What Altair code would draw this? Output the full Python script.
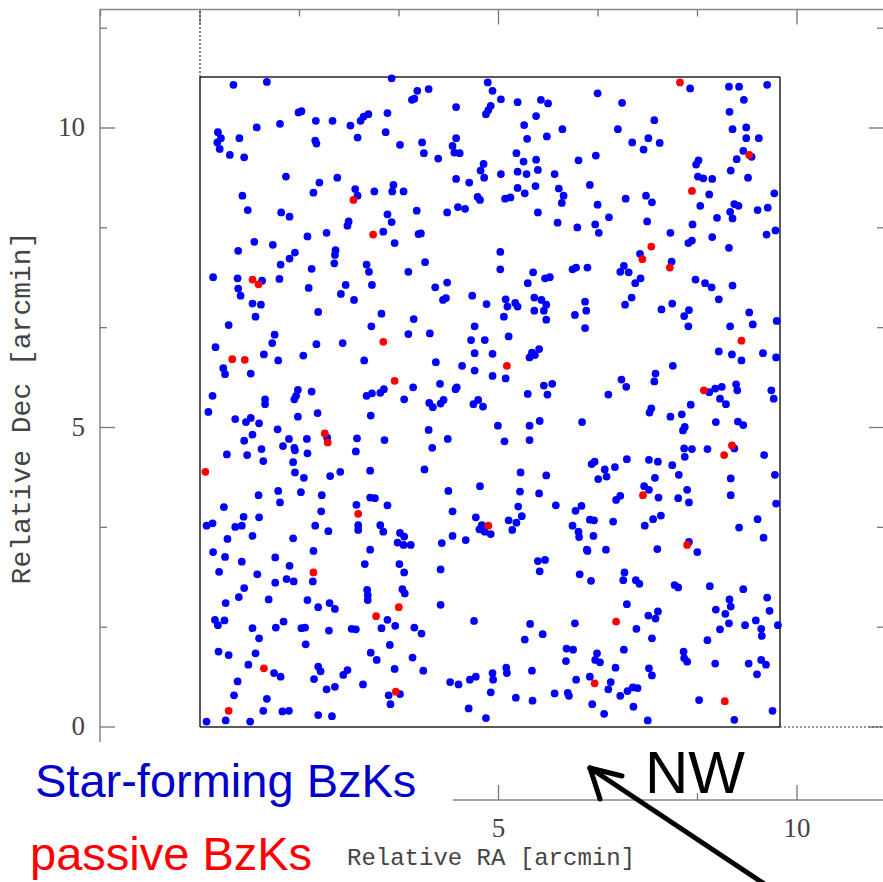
import altair as alt
import pandas as pd

# ---------------- data (Relative RA / Dec in arcmin) ----------------
blue_ra = [
0.56,1.12,3.21,1.65,1.70,1.34,1.94,2.22,2.52,2.69,2.74,2.82,3.14,3.11,2.64,0.30,0.35,0.29,0.33,0.66,0.95,1.93,1.95,0.50,0.74,1.44,2.00,2.30,1.90,2.60,2.64,2.92,0.71,0.80,1.36,1.50,2.49,2.47,2.12,1.80,3.14,3.21,3.07,0.91,0.64,1.22,1.59,1.50,2.27,2.26,2.25,1.35,1.87,2.79,2.83,0.22,0.63,1.04,1.33,0.64,1.82,2.44,2.88,
3.64,3.83,3.55,3.59,4.29,4.82,4.90,5.04,5.32,5.71,5.83,4.87,4.83,4.79,5.63,5.43,6.07,5.81,5.48,3.35,3.72,3.75,4.29,4.23,4.26,4.35,3.99,5.30,5.42,5.63,6.34,4.75,4.70,4.76,4.29,4.51,5.04,5.32,5.47,5.66,5.94,5.62,5.32,5.44,6.01,6.09,6.06,3.24,3.22,3.41,4.65,4.69,5.11,5.20,3.63,4.14,4.32,4.44,5.66,5.99,6.32,3.66,3.70,3.26,5.03,3.77,3.49,5.03,5.58,5.78,5.86,6.24,6.30,5.49,3.94,4.14,
6.66,7.07,8.21,8.86,9.03,9.50,9.11,8.87,7.61,7.00,7.51,7.24,7.70,7.43,8.92,9.15,9.15,9.36,9.10,8.99,9.24,8.89,9.18,6.63,8.35,8.31,8.34,8.43,8.58,6.53,8.53,9.62,7.13,7.47,7.57,6.66,6.85,8.38,8.95,9.02,8.88,8.92,9.34,9.51,8.66,6.62,6.68,7.49,8.25,7.88,8.18,8.24,8.58,8.86,9.49,9.64,7.37,7.90,6.49,7.04,7.10,7.18,7.29,7.38,8.30,8.46,8.57,8.92,
0.68,2.36,2.58,0.88,1.02,0.93,1.98,3.04,0.48,2.87,1.25,1.21,0.26,1.95,2.39,1.07,1.31,1.73,2.75,0.39,0.42,0.85,0.21,1.64,1.61,1.58,1.87,1.09,1.09,2.79,2.88,3.02,3.08,0.14,0.59,0.77,0.85,0.99,1.64,1.97,2.86,1.30,0.88,0.74,1.49,1.79,2.13,2.63,3.09,0.45,0.79,1.03,1.06,1.39,1.58,1.59,1.80,1.56,1.59,1.74,2.18,2.35,2.61,2.85,0.98,1.31,1.69,1.34,2.04,0.40,2.62,2.85,2.93,3.14,2.03,
4.07,4.12,4.56,4.80,5.12,5.15,5.28,5.32,5.60,5.72,5.80,5.60,5.76,5.80,6.45,6.47,6.28,6.45,3.58,5.09,3.49,3.85,4.60,4.54,4.77,5.17,4.60,4.90,5.52,5.56,5.61,5.68,3.95,4.39,4.60,4.90,5.12,5.76,5.90,5.82,5.49,3.57,4.02,4.30,4.28,3.42,3.84,3.90,4.03,4.08,4.58,4.66,4.74,3.83,4.15,3.89,4.99,5.10,5.52,5.69,5.52,6.40,3.76,5.37,5.80,4.16,4.69,5.36,5.68,5.33,5.96,6.29,6.39,4.23,
8.69,7.12,7.23,7.73,7.91,8.11,8.19,8.18,8.88,9.20,9.26,9.66,8.69,8.91,9.07,9.43,9.65,7.92,7.63,7.61,7.06,7.14,6.84,8.63,8.74,8.53,8.98,9.00,8.71,8.81,9.57,9.61,8.22,7.56,7.53,7.88,8.07,8.12,8.09,8.64,9.01,9.10,8.11,8.24,8.12,8.50,8.95,9.45,6.56,6.61,6.78,6.67,6.81,6.95,7.15,7.52,7.67,7.91,8.02,7.62,7.44,7.52,7.68,8.16,8.01,8.19,8.89,8.89,9.63,9.65,6.97,7.04,
0.73,0.99,0.11,0.21,0.59,0.70,0.46,0.88,1.56,1.93,2.15,2.65,2.65,3.02,3.07,0.22,0.42,0.70,1.26,1.50,0.32,0.96,1.26,1.45,1.57,1.90,1.89,2.85,2.76,2.80,2.81,2.81,0.74,0.65,0.43,1.15,1.80,1.98,2.17,2.26,0.25,0.41,0.30,0.88,1.27,1.40,1.70,1.76,2.16,2.54,2.61,3.04,3.14,0.99,1.77,0.31,0.48,0.93,0.81,1.24,1.35,3.18,2.86,2.96,0.63,0.57,1.12,1.06,1.38,1.49,1.98,2.02,1.91,2.40,2.47,2.12,2.26,2.73,3.16,3.19,0.11,0.43,0.84,1.98,2.21,
4.62,4.72,4.68,4.77,4.87,5.17,5.30,5.39,5.23,3.35,3.42,3.31,3.41,3.53,4.05,4.23,4.45,3.34,3.42,4.03,3.39,3.43,4.03,4.59,3.27,3.59,3.71,3.56,3.26,3.74,4.19,4.33,4.52,4.62,4.90,4.91,5.13,5.14,4.87,4.50,4.79,5.29,5.57,5.56,5.44,5.53,5.74,5.66,5.78,5.69,6.24,6.34,6.35,6.48,6.36,6.28,6.14,6.25,6.13,6.30,5.94,6.16,6.18,3.35,
6.53,6.60,6.92,7.45,7.59,7.72,6.59,6.49,6.80,7.66,8.19,8.33,9.03,9.34,9.44,6.55,7.11,7.09,7.30,7.36,7.95,8.01,8.54,9.10,7.15,7.51,7.67,7.63,7.31,7.57,8.50,8.64,8.80,8.87,8.89,8.86,8.71,9.13,9.31,9.40,9.41,9.50,9.54,9.68,6.65,6.62,6.70,7.10,6.96,6.53,6.88,6.84,7.04,7.16,7.25,7.33,7.52,7.57,8.10,8.11,8.16,8.63,9.19,9.40,9.48,9.33,6.57,6.77,7.26,7.50,8.36,8.95,9.59,
]
blue_dec = [
10.72,10.77,10.83,10.26,10.28,10.07,10.12,10.12,10.04,10.12,10.19,10.23,10.25,9.93,9.84,9.93,9.83,9.76,9.65,9.83,10.01,9.79,9.74,9.55,9.51,9.19,9.09,9.17,8.92,8.98,8.87,8.94,8.87,8.63,8.59,8.52,8.44,8.37,8.25,8.19,8.56,8.43,8.27,8.10,7.95,8.05,7.92,7.82,7.96,7.88,7.74,7.72,7.65,7.72,7.60,7.51,7.49,7.45,7.48,7.32,7.33,7.38,7.38,
10.62,10.65,10.47,10.49,10.35,10.76,10.62,10.48,10.43,10.47,10.41,10.37,10.30,10.23,10.20,10.05,9.98,9.86,9.82,9.72,9.76,9.58,9.83,9.70,9.59,9.58,9.49,9.58,9.44,9.47,9.46,9.40,9.29,9.17,9.15,9.09,9.23,9.27,9.23,9.30,9.23,9.03,9.00,8.91,8.99,8.87,8.75,9.05,8.94,8.94,8.85,8.80,8.82,8.84,8.62,8.59,8.68,8.65,8.59,8.42,8.34,8.23,8.24,8.08,7.93,7.76,7.60,7.64,7.59,7.49,7.51,7.64,7.67,7.41,7.34,7.42,
10.58,10.42,10.66,10.69,10.69,10.72,10.47,10.27,10.13,9.98,9.83,9.76,9.75,9.64,9.98,10.01,9.83,9.83,9.62,9.48,9.52,9.29,9.17,9.54,9.46,9.39,9.19,9.16,9.15,9.05,8.89,8.91,8.82,8.87,8.76,8.72,8.51,8.70,8.73,8.70,8.60,8.49,8.63,8.67,8.50,8.39,8.25,8.44,8.39,8.25,8.08,8.12,8.18,8.00,8.22,8.29,7.90,7.77,7.67,7.60,7.70,7.59,7.41,7.49,7.47,7.41,7.34,7.37,
7.20,7.23,7.13,7.07,7.05,6.85,6.93,6.90,6.71,6.69,6.55,6.41,6.34,6.39,6.41,6.22,6.12,6.20,6.12,5.99,5.89,5.90,5.53,5.63,5.53,5.47,5.60,5.47,5.39,5.53,5.57,5.58,5.64,5.26,5.14,5.09,5.16,5.07,5.18,5.24,5.20,4.97,4.88,4.78,4.81,4.81,4.83,4.82,4.79,4.55,4.54,4.64,4.44,4.69,4.66,4.62,4.57,4.42,4.25,4.16,4.19,4.26,4.60,4.28,3.87,3.94,3.92,3.75,3.87,3.67,3.71,3.83,3.82,3.70,3.60,
7.13,7.16,7.20,7.06,7.14,7.02,7.08,7.02,7.17,7.13,7.05,6.95,6.95,6.80,7.10,6.95,6.88,6.66,6.81,6.85,6.56,6.57,6.69,6.46,6.46,6.52,6.24,6.23,6.17,6.25,6.21,6.31,6.09,6.03,5.95,5.86,5.82,5.70,5.73,5.55,5.56,5.67,5.73,5.67,5.64,5.47,5.41,5.34,5.40,5.46,5.39,5.46,5.35,4.96,4.81,4.66,5.03,4.77,5.03,5.11,4.79,5.09,4.30,4.25,4.20,3.94,4.02,3.93,3.90,3.68,3.70,3.61,3.69,3.60,
7.14,7.05,7.17,6.97,7.07,6.86,6.96,6.69,6.69,6.92,6.72,6.78,6.27,6.22,6.12,6.24,6.17,6.03,5.90,5.77,5.80,5.68,5.55,5.65,5.68,5.59,5.72,5.62,5.48,5.39,5.62,5.48,5.38,5.32,5.25,5.18,5.22,5.01,4.95,5.09,5.10,5.04,4.65,4.64,4.51,4.64,4.65,4.54,4.39,4.43,4.30,4.14,4.18,4.34,4.47,4.46,4.43,4.37,4.21,4.16,4.02,3.96,3.83,3.96,3.82,3.75,4.15,3.87,4.21,3.73,3.79,3.86,
3.51,3.50,3.36,3.40,3.34,3.36,3.14,3.19,3.15,3.36,3.27,3.37,3.29,3.37,3.26,2.92,2.84,2.76,2.83,2.69,2.59,2.55,2.41,2.47,2.43,2.94,2.43,2.96,2.72,2.29,2.20,2.12,2.32,2.17,2.07,2.13,2.12,2.00,2.07,1.97,1.79,1.78,1.70,1.65,1.66,1.76,1.65,1.66,1.61,1.64,1.63,1.65,1.79,1.48,1.38,1.26,1.20,1.23,1.04,0.90,0.84,1.37,1.24,1.12,0.76,0.53,0.47,0.27,0.26,0.27,1.01,0.93,0.80,0.87,0.95,0.63,0.67,0.71,0.53,0.38,0.09,0.11,0.09,0.20,0.18,
3.50,3.37,3.30,3.26,3.22,3.45,3.41,3.52,3.29,3.24,3.18,3.08,3.04,3.04,3.07,3.19,3.12,2.72,2.58,2.63,2.30,2.23,2.04,1.77,1.69,1.66,1.56,1.16,0.97,0.94,0.75,0.71,0.79,0.84,0.90,0.79,0.99,0.90,0.58,0.31,0.15,0.49,0.44,0.94,1.46,1.72,1.55,2.77,2.79,2.60,3.36,3.26,3.17,2.96,2.55,1.73,1.31,1.29,1.10,0.79,0.56,0.57,0.52,0.55,
3.46,3.45,3.43,3.36,3.47,3.53,3.19,2.94,2.96,2.97,3.09,2.92,3.33,3.47,3.16,2.44,2.58,2.45,2.45,2.39,2.37,2.33,2.35,2.30,2.05,1.86,1.93,1.81,1.64,1.48,1.45,1.96,1.89,2.13,2.01,1.73,1.63,1.70,1.78,1.64,1.52,2.16,1.94,1.70,1.23,1.12,1.08,1.29,0.99,0.84,0.75,0.63,0.52,0.60,0.66,0.65,0.98,0.86,1.26,1.15,1.09,1.06,1.06,1.12,1.04,0.88,0.38,0.22,0.34,0.11,0.45,0.12,0.27,
]
red_ra = [2.57,2.90,0.88,0.98,8.04,9.20,8.24,7.56,7.41,7.87,0.54,0.75,3.07,2.09,2.14,0.09,3.26,5.14,
          9.07,8.44,8.91,8.78,7.42,2.65,1.90,2.95,1.07,0.48,4.83,3.33,3.28,8.16,6.97,6.61,8.79]
red_dec = [8.80,8.22,7.47,7.39,10.76,9.55,8.95,8.02,7.81,7.67,6.14,6.13,6.43,4.90,4.75,4.26,5.78,6.03,
           6.45,5.62,4.70,4.54,3.87,3.56,2.58,1.85,0.98,0.27,3.36,2.00,0.59,3.04,1.76,0.73,0.43]

tick_labels = ["0", "5", "10"]
tick_values = [0, 5, 10]
minor_values = [0, 5/3, 10/3, 5, 20/3, 25/3, 10, 35/3]
x_title = "Relative RA [arcmin]"
y_title = "Relative Dec [arcmin]"
legend_texts = ["Star-forming BzKs", "passive BzKs"]
legend_colors = ["#0000cc", "#ff0000"]
direction_label = "NW"

# ---------------- geometry ----------------
W, H = 883, 882
PX, PY = 59.7, 59.9           # pixels per arcmin
X_DOM = [-200 / PX, (W - 200) / PX]
Y_DOM = [(727 - H) / PY, 727 / PY]
FRAME_L = -100 / PX           # outer frame left (RA)
FRAME_T = 717.5 / PY          # outer frame top (Dec)
FRAME_B = -73 / PY            # lower RA axis (Dec)
INNER_R = 580 / PX
INNER_T = 650 / PY

xs = alt.Scale(domain=X_DOM, nice=False, zero=False)
ys = alt.Scale(domain=Y_DOM, nice=False, zero=False)


def seg(df, color, width, dash=None):
    kw = dict(color=color, strokeWidth=width)
    if dash:
        kw["strokeDash"] = dash
    return alt.Chart(df).mark_rule(**kw).encode(
        x=alt.X("x1:Q", scale=xs, axis=None), x2="x2:Q",
        y=alt.Y("y1:Q", scale=ys, axis=None), y2="y2:Q")


def mk(rows):
    return pd.DataFrame(rows, columns=["x1", "x2", "y1", "y2"])


outer = mk([
    [FRAME_L, FRAME_L, -0.25, FRAME_T],
    [FRAME_L, X_DOM[1] + 0.2, FRAME_T, FRAME_T],
    [253 / PX, X_DOM[1] + 0.2, FRAME_B, FRAME_B],
])
inner = mk([
    [0, INNER_R, 0, 0], [0, INNER_R, INNER_T, INNER_T],
    [0, 0, 0, INNER_T], [INNER_R, INNER_R, 0, INNER_T],
])
dotted = mk([[0, 0, INNER_T, FRAME_T], [INNER_R, X_DOM[1] + 0.2, 0, 0]])

ticks = []
RIGHT = (W + 1 - 200) / PX
for v in minor_values:
    major = any(abs(v - t) < 1e-6 for t in tick_values)
    L = 15 if major else 7
    ticks.append([FRAME_L, FRAME_L + L / PX, v, v])          # left
    ticks.append([RIGHT - L / PX, RIGHT, v, v])              # right
    rv = v - 5 / 3
    for r in [rv, v]:
        pass
ra_ticks = [-5 / 3] + minor_values
for v in ra_ticks:
    major = any(abs(v - t) < 1e-6 for t in tick_values)
    L = 15 if major else 7
    ticks.append([v, v, FRAME_T, FRAME_T - L / PY])          # top
    if v * PX + 200 > 455:
        ticks.append([v, v, FRAME_B, FRAME_B + L / PY])      # bottom
ticks_df = mk(ticks)

# labels
ylab = pd.DataFrame({"x": [-115 / PX] * 3, "y": tick_values, "t": tick_labels})
xlab = pd.DataFrame({"x": [5, 10], "y": [(727 - 829) / PY] * 2, "t": ["5", "10"]})

ylab_layer = alt.Chart(ylab).mark_text(
    align="right", baseline="middle", font="Liberation Serif", fontSize=27, color="#444444"
).encode(x=alt.X("x:Q", scale=xs, axis=None), y=alt.Y("y:Q", scale=ys, axis=None), text="t:N")
xlab_layer = alt.Chart(xlab).mark_text(
    align="center", baseline="middle", font="Liberation Serif", fontSize=27, color="#444444"
).encode(x=alt.X("x:Q", scale=xs, axis=None), y=alt.Y("y:Q", scale=ys, axis=None), text="t:N")

blue_df = pd.DataFrame({"ra": blue_ra, "dec": blue_dec})
red_df = pd.DataFrame({"ra": red_ra, "dec": red_dec})


def pts(df, color):
    return alt.Chart(df).mark_circle(size=60, opacity=1, color=color).encode(
        x=alt.X("ra:Q", scale=xs, axis=None), y=alt.Y("dec:Q", scale=ys, axis=None))


def txt(text, x, y, **kw):
    return alt.Chart(pd.DataFrame({"t": [text]})).mark_text(**kw).encode(
        x=alt.value(x), y=alt.value(y), text="t:N")


titles = [
    txt(x_title, 491, 858, font="Liberation Mono", fontSize=24, color="#444444",
        align="center", baseline="middle"),
    txt(y_title, 22, 408, font="Liberation Mono", fontSize=28, color="#444444",
        align="center", baseline="middle", angle=270),
    txt(legend_texts[0], 35, 797, font="Liberation Sans", fontSize=47, color=legend_colors[0],
        align="left", baseline="alphabetic"),
    txt(legend_texts[1], 30, 870, font="Liberation Sans", fontSize=47, color=legend_colors[1],
        align="left", baseline="alphabetic"),
    txt(direction_label, 695, 793, font="Liberation Sans", fontSize=60, color="#000000",
        align="center", baseline="alphabetic"),
]

arrow = pd.DataFrame({"x1": [766, 590, 590], "y1": [885, 768, 768],
                      "x2": [590, 600, 622], "y2": [768, 799, 776]})
arrow_layer = alt.Chart(arrow).mark_rule(color="#000000", strokeWidth=5, strokeCap="round").encode(
    x=alt.X("x1:Q", scale=alt.Scale(domain=[0, W], nice=False, zero=False), axis=None),
    x2="x2:Q",
    y=alt.Y("y1:Q", scale=alt.Scale(domain=[0, H], range=[0, H], nice=False, zero=False), axis=None),
    y2="y2:Q")

chart = alt.layer(
    seg(outer, "#888888", 1.5),
    seg(ticks_df, "#777777", 1.3),
    seg(dotted, "#333333", 1.2, [2, 2]),
    seg(inner, "#222222", 1.5),
    pts(blue_df, "#0000ff"),
    pts(red_df, "#ff0000"),
    ylab_layer, xlab_layer,
    *titles,
).properties(width=W, height=H, padding=0, autosize=alt.AutoSizeParams(type="none")
).configure_view(stroke=None)

# arrow drawn in its own pixel-space layer via independent scales
chart = alt.layer(
    seg(outer, "#888888", 1.5),
    seg(ticks_df, "#777777", 1.3),
    seg(dotted, "#333333", 1.2, [2, 2]),
    seg(inner, "#222222", 1.5),
    pts(blue_df, "#0000ff"),
    pts(red_df, "#ff0000"),
    ylab_layer, xlab_layer,
    *titles,
    arrow_layer,
).resolve_scale(x="independent", y="independent").properties(
    width=W, height=H, padding=0, autosize=alt.AutoSizeParams(type="none")
).configure_view(stroke=None)

chart.save("out.html", embed_options={"renderer": "svg", "actions": False})
